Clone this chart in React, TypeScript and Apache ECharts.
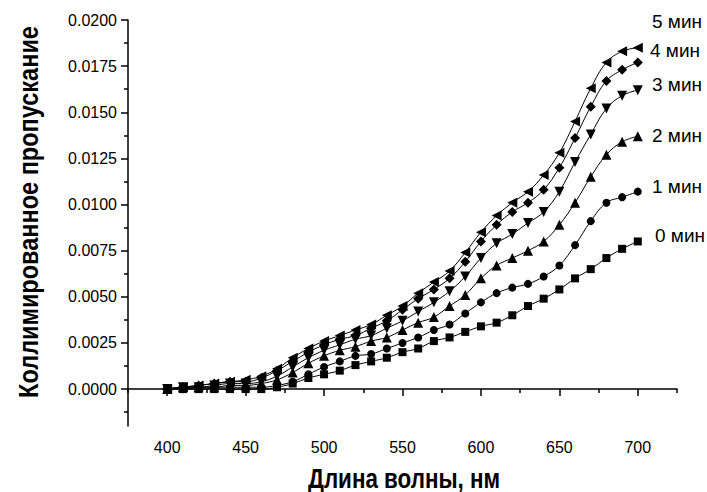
import React, { useEffect, useRef } from "react";
import * as echarts from "echarts";

const wavelengths = [400, 410, 420, 430, 440, 450, 460, 470, 480, 490, 500, 510, 520, 530, 540, 550, 560, 570, 580, 590, 600, 610, 620, 630, 640, 650, 660, 670, 680, 690, 700];

const min0 = [0.0, 0.0, 0.0, 0.0, 0.0, 0.0, 0.0, 0.0001, 0.0003, 0.0006, 0.0008, 0.001, 0.0013, 0.0015, 0.0017, 0.002, 0.0022, 0.0026, 0.0028, 0.0031, 0.0034, 0.0036, 0.004, 0.0045, 0.0049, 0.0054, 0.006, 0.0065, 0.0071, 0.0076, 0.008];
const min1 = [0.0, 0.0, 0.0001, 0.0001, 0.0001, 0.0001, 0.0001, 0.0002, 0.0004, 0.0008, 0.0012, 0.0015, 0.0018, 0.0019, 0.0022, 0.0025, 0.0028, 0.0032, 0.0035, 0.0041, 0.0047, 0.0052, 0.0055, 0.0057, 0.0061, 0.0067, 0.0078, 0.0091, 0.0101, 0.0104, 0.0107];
const min2 = [0.0, 0.0001, 0.0001, 0.0001, 0.0002, 0.0002, 0.0003, 0.0005, 0.0009, 0.0014, 0.0018, 0.0021, 0.0023, 0.0026, 0.0028, 0.0032, 0.0036, 0.0039, 0.0045, 0.0051, 0.006, 0.0067, 0.0071, 0.0075, 0.008, 0.0089, 0.0101, 0.0115, 0.0127, 0.0134, 0.0137];
const min3 = [0.0, 0.0001, 0.0001, 0.0002, 0.0003, 0.0003, 0.0004, 0.0007, 0.0012, 0.0017, 0.0021, 0.0024, 0.0027, 0.0029, 0.0033, 0.0037, 0.0042, 0.0047, 0.0053, 0.0061, 0.0071, 0.0079, 0.0084, 0.009, 0.0096, 0.0107, 0.0123, 0.0138, 0.0152, 0.0159, 0.0162];
const min4 = [0.0, 0.0001, 0.0002, 0.0003, 0.0004, 0.0004, 0.0006, 0.001, 0.0015, 0.002, 0.0024, 0.0027, 0.0029, 0.0033, 0.0037, 0.0043, 0.0049, 0.0054, 0.006, 0.0069, 0.008, 0.0089, 0.0096, 0.0101, 0.0108, 0.012, 0.0136, 0.0153, 0.0167, 0.0173, 0.0177];
const min5 = [0.0, 0.0001, 0.0002, 0.0003, 0.0004, 0.0005, 0.0007, 0.0011, 0.0017, 0.0022, 0.0026, 0.0029, 0.0032, 0.0035, 0.004, 0.0045, 0.0052, 0.0058, 0.0064, 0.0074, 0.0085, 0.0094, 0.0101, 0.0107, 0.0116, 0.0128, 0.0145, 0.0163, 0.0177, 0.0183, 0.0185];

const seriesNames = ["0 мин", "1 мин", "2 мин", "3 мин", "4 мин", "5 мин"];
const seriesValues = [min0, min1, min2, min3, min4, min5];

const xLabelValues = [400, 450, 500, 550, 600, 650, 700];
const xMinorValues = [375, 425, 475, 525, 575, 625, 675, 725];
const yLabelValues = [0, 0.0025, 0.005, 0.0075, 0.01, 0.0125, 0.015, 0.0175, 0.02];
const yMinorValues = [-0.00125, 0.00125, 0.00375, 0.00625, 0.00875, 0.01125, 0.01375, 0.01625, 0.01875];

const xTitle = "Длина волны, нм";
const yTitle = "Коллимированное пропускание";

export default function App() {
  const ref = useRef<HTMLDivElement>(null);

  useEffect(() => {
    if (!ref.current) return;
    const chart = echarts.init(ref.current, null, { renderer: "svg" });

    const symbols = [
      { symbol: "rect", size: 8, rotate: 0 },
      { symbol: "circle", size: 8, rotate: 0 },
      { symbol: "triangle", size: 10, rotate: 0 },
      { symbol: "triangle", size: 10, rotate: 180 },
      { symbol: "diamond", size: 10, rotate: 0 },
      { symbol: "triangle", size: 10, rotate: 90 },
    ];

    const labelPos = [
      { x: 655, y: 235 },
      { x: 652, y: 186 },
      { x: 652, y: 135 },
      { x: 652, y: 84 },
      { x: 650, y: 50 },
      { x: 652, y: 21 },
    ];

    const axisFont = { fontFamily: "Liberation Sans, Arial, sans-serif", fontSize: 16, color: "#000" };
    const titleFont = "bold 28px 'Liberation Sans', Arial, sans-serif";

    chart.setOption({
      animation: false,
      backgroundColor: "#fff",
      grid: { left: 128, top: 20, right: 30, bottom: 66 },
      xAxis: [
        {
          type: "value",
          min: 375,
          max: 725,
          axisLine: { show: true, lineStyle: { color: "#000", width: 1.5 } },
          axisTick: { show: true, customValues: xLabelValues, length: 7, lineStyle: { color: "#000", width: 1.5 } },
          axisLabel: { show: true, customValues: xLabelValues, margin: 13, ...axisFont },
          splitLine: { show: false },
        },
        {
          type: "value",
          position: "bottom",
          min: 375,
          max: 725,
          axisLine: { show: false },
          axisTick: { show: true, customValues: xMinorValues, length: 4, lineStyle: { color: "#000", width: 1.5 } },
          axisLabel: { show: false },
          splitLine: { show: false },
        },
      ],
      yAxis: [
        {
          type: "value",
          min: -0.002,
          max: 0.02,
          axisLine: { show: true, lineStyle: { color: "#000", width: 1.5 } },
          axisTick: { show: true, customValues: yLabelValues, length: 7, lineStyle: { color: "#000", width: 1.5 } },
          axisLabel: {
            show: true,
            customValues: yLabelValues,
            margin: 11,
            formatter: (v: number) => v.toFixed(4),
            ...axisFont,
          },
          splitLine: { show: false },
        },
        {
          type: "value",
          position: "left",
          min: -0.002,
          max: 0.02,
          axisLine: { show: false },
          axisTick: { show: true, customValues: yMinorValues, length: 4, lineStyle: { color: "#000", width: 1.5 } },
          axisLabel: { show: false },
          splitLine: { show: false },
        },
      ],
      series: seriesValues.map((vals, i) => ({
        name: seriesNames[i],
        type: "line",
        xAxisIndex: 0,
        yAxisIndex: 0,
        data: wavelengths.map((w, j) => [w, vals[j]]),
        smooth: 0.4,
        symbol: symbols[i].symbol,
        symbolSize: symbols[i].size,
        symbolRotate: symbols[i].rotate,
        showSymbol: true,
        lineStyle: { color: "#000", width: 1 },
        itemStyle: { color: "#000" },
        z: 2 + i,
      })),
      graphic: [
        ...seriesNames.map((n, i) => ({
          type: "text",
          x: labelPos[i].x,
          y: labelPos[i].y,
          style: {
            text: n,
            fill: "#000",
            font: "19px 'Liberation Sans', Arial, sans-serif",
            textAlign: "left",
            textVerticalAlign: "middle",
          },
        })),
        {
          type: "text",
          x: 404,
          y: 478,
          scaleX: 0.8,
          style: {
            text: xTitle,
            fill: "#000",
            font: titleFont,
            textAlign: "center",
            textVerticalAlign: "middle",
          },
        },
        {
          type: "text",
          x: 28,
          y: 212,
          rotation: Math.PI / 2,
          scaleX: 0.84,
          style: {
            text: yTitle,
            fill: "#000",
            font: titleFont,
            textAlign: "center",
            textVerticalAlign: "middle",
          },
        },
      ],
    });

    return () => chart.dispose();
  }, []);

  return (
    <div
      ref={ref}
      style={{ position: "fixed", left: 0, top: 0, width: 707, height: 492, background: "#fff" }}
    />
  );
}
